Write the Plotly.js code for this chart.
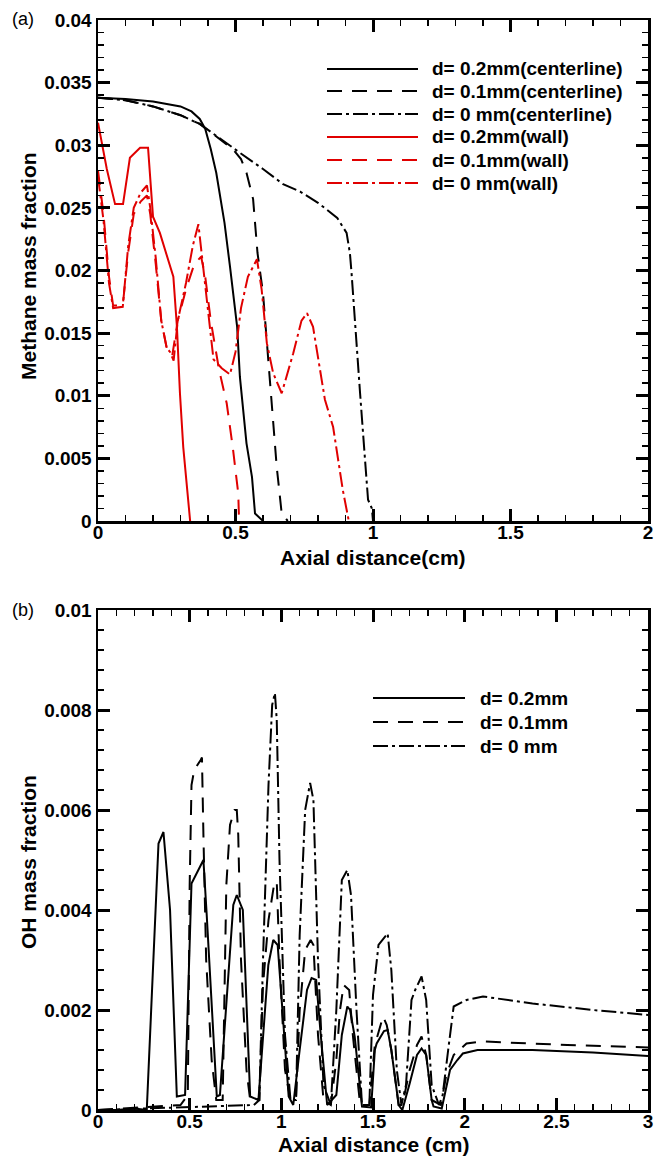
<!DOCTYPE html>
<html>
<head>
<meta charset="utf-8">
<script src="https://cdn.plot.ly/plotly-3.0.1.min.js"></script>
<style>html,body{margin:0;padding:0;background:#fff;}#chart{width:654px;height:1157px;}</style>
</head>
<body>
<div id="chart"></div>
<script>
// ---------- Panel (a): methane mass fraction ----------
const cl02X = [0, 0.1, 0.2, 0.3, 0.34, 0.37, 0.39, 0.41, 0.43, 0.46, 0.48, 0.506, 0.516, 0.528, 0.54, 0.56, 0.571, 0.6];
const cl02Y = [0.0338, 0.0337, 0.0335, 0.0331, 0.0327, 0.0321, 0.0313, 0.0297, 0.0278, 0.0238, 0.0203, 0.0155, 0.0115, 0.0089, 0.0062, 0.0035, 0.0006, 0];

const cl01X = [0, 0.1, 0.2, 0.3, 0.37, 0.45, 0.49, 0.52, 0.54, 0.564, 0.58, 0.6, 0.614, 0.632, 0.65, 0.668, 0.69];
const cl01Y = [0.0338, 0.0336, 0.0331, 0.0324, 0.0317, 0.0304, 0.0297, 0.0289, 0.0278, 0.0257, 0.0214, 0.0182, 0.0142, 0.0089, 0.0043, 0.0006, 0];

const cl00X = [0, 0.1, 0.2, 0.3, 0.37, 0.45, 0.516, 0.6, 0.673, 0.735, 0.8, 0.83, 0.87, 0.904, 0.916, 0.922, 0.935, 0.953, 0.971, 0.982, 0.996, 1.0];
const cl00Y = [0.0338, 0.0336, 0.0331, 0.0324, 0.0317, 0.0304, 0.0294, 0.0281, 0.0269, 0.0263, 0.0254, 0.0249, 0.0242, 0.023, 0.0214, 0.0198, 0.0155, 0.0102, 0.0049, 0.0017, 0.001, 0];

const w02X = [0, 0.032, 0.062, 0.091, 0.116, 0.153, 0.182, 0.2, 0.225, 0.262, 0.274, 0.287, 0.298, 0.31, 0.335];
const w02Y = [0.0318, 0.0281, 0.0253, 0.0253, 0.029, 0.0298, 0.0298, 0.0243, 0.023, 0.0203, 0.0195, 0.0155, 0.0102, 0.0059, 0];

const w01X = [0, 0.02, 0.04, 0.055, 0.09, 0.11, 0.13, 0.155, 0.178, 0.19, 0.21, 0.23, 0.25, 0.27, 0.29, 0.32, 0.35, 0.375, 0.39, 0.41, 0.44, 0.468, 0.49, 0.51, 0.513];
const w01Y = [0.028, 0.0245, 0.0195, 0.0172, 0.0172, 0.0215, 0.0245, 0.0255, 0.026, 0.0245, 0.0205, 0.016, 0.0138, 0.0132, 0.016, 0.0185, 0.0205, 0.0211, 0.0195, 0.016, 0.0121, 0.0094, 0.0059, 0.0022, 0];

const w00X = [0, 0.02, 0.04, 0.055, 0.09, 0.11, 0.13, 0.155, 0.178, 0.19, 0.21, 0.23, 0.25, 0.262, 0.275, 0.29, 0.32, 0.345, 0.365, 0.371, 0.39, 0.407, 0.42, 0.45, 0.48, 0.5, 0.52, 0.545, 0.578, 0.595, 0.614, 0.637, 0.668, 0.71, 0.74, 0.76, 0.782, 0.825, 0.855, 0.89, 0.91, 0.912];
const w00Y = [0.0275, 0.024, 0.019, 0.017, 0.0171, 0.022, 0.025, 0.0262, 0.0268, 0.025, 0.021, 0.016, 0.0138, 0.0135, 0.0128, 0.016, 0.019, 0.022, 0.0237, 0.0225, 0.0185, 0.0155, 0.0129, 0.0122, 0.0117, 0.0135, 0.017, 0.0195, 0.0209, 0.0185, 0.0142, 0.0118, 0.0102, 0.0134, 0.016, 0.0166, 0.0155, 0.0097, 0.0075, 0.0025, 0.0003, 0];

// ---------- Panel (b): OH mass fraction ----------
const oh02X = [0, 0.1, 0.2, 0.266, 0.33, 0.357, 0.393, 0.43, 0.475, 0.51, 0.575, 0.593, 0.648, 0.665, 0.738, 0.757, 0.79, 0.83, 0.875, 0.929, 0.956, 0.98, 1.04, 1.065, 1.1, 1.14, 1.165, 1.19, 1.215, 1.25, 1.3, 1.33, 1.36, 1.375, 1.4, 1.43, 1.44, 1.49, 1.51, 1.52, 1.56, 1.58, 1.6, 1.64, 1.66, 1.7, 1.74, 1.765, 1.79, 1.82, 1.83, 1.875, 1.9, 1.92, 1.96, 1.99, 2.07, 2.37, 2.7, 3.0];
const oh02Y = [0, 0, 0.00003, 0, 0.00533, 0.00556, 0.004, 0.00027, 0.0003, 0.00453, 0.005, 0.0039, 0.00027, 0.0003, 0.0041, 0.0043, 0.004, 0.00027, 0.0002, 0.0029, 0.0034, 0.0033, 0.00027, 0.0001, 0.0012, 0.0024, 0.00264, 0.0026, 0.0015, 0.0001, 0.0003, 0.0015, 0.00207, 0.002, 0.00147, 0.0003, 0.00007, 0.00005, 0.0012, 0.00133, 0.00158, 0.0016, 0.0012, 0.0001, 0, 0.00053, 0.0011, 0.00123, 0.0011, 0.0002, 0.00007, 0.00003, 0.0005, 0.0008, 0.001, 0.00113, 0.0012, 0.0012, 0.00115, 0.00108];

const oh01X = [0, 0.4, 0.45, 0.49, 0.5, 0.51, 0.525, 0.56, 0.567, 0.575, 0.59, 0.62, 0.645, 0.68, 0.7, 0.72, 0.745, 0.757, 0.765, 0.78, 0.81, 0.83, 0.88, 0.9, 0.93, 0.96, 0.975, 0.99, 1.02, 1.05, 1.08, 1.1, 1.13, 1.16, 1.175, 1.2, 1.23, 1.27, 1.3, 1.32, 1.34, 1.37, 1.39, 1.43, 1.48, 1.51, 1.54, 1.555, 1.575, 1.6, 1.64, 1.66, 1.7, 1.74, 1.765, 1.79, 1.82, 1.87, 1.9, 1.94, 2.01, 2.1, 2.56, 3.0];
const oh01Y = [0, 0.0001, 0.0001, 0.0003, 0.0045, 0.0065, 0.0068, 0.007, 0.00705, 0.0055, 0.003, 0.001, 0.0002, 0.0002, 0.0045, 0.0057, 0.006, 0.006, 0.0055, 0.003, 0.0008, 0.0002, 0.0002, 0.0025, 0.0038, 0.0045, 0.00457, 0.003, 0.0008, 0.0002, 0.0002, 0.002, 0.0032, 0.0034, 0.0033, 0.0015, 0.0002, 0.0001, 0.001, 0.002, 0.0025, 0.0024, 0.0015, 0.0001, 0.0001, 0.0013, 0.0017, 0.00187, 0.0017, 0.0012, 0.0001, 0.0001, 0.0008, 0.0013, 0.00147, 0.0011, 0.0002, 0.0001, 0.0007, 0.0011, 0.00133, 0.00137, 0.0013, 0.00125];

const oh00X = [0, 0.85, 0.88, 0.9, 0.93, 0.95, 0.965, 0.975, 0.99, 1.02, 1.05, 1.08, 1.1, 1.13, 1.157, 1.175, 1.2, 1.23, 1.27, 1.3, 1.33, 1.36, 1.38, 1.41, 1.44, 1.48, 1.5, 1.53, 1.58, 1.6, 1.63, 1.655, 1.68, 1.71, 1.73, 1.765, 1.79, 1.82, 1.86, 1.88, 1.91, 1.94, 2.01, 2.1, 2.37, 2.7, 3.0];
const oh00Y = [0, 0.0001, 0.0002, 0.003, 0.0065, 0.0081, 0.00834, 0.0078, 0.005, 0.0015, 0.0002, 0.0002, 0.0035, 0.006, 0.00654, 0.0062, 0.003, 0.0005, 0.0001, 0.002, 0.0046, 0.0048, 0.0043, 0.002, 0.0001, 0.0001, 0.0023, 0.0033, 0.00353, 0.0028, 0.0008, 0.0001, 0.0005, 0.0022, 0.0024, 0.00267, 0.0022, 0.0005, 0.0001, 0.0003, 0.0012, 0.00207, 0.0022, 0.00227, 0.00213, 0.002, 0.0019];

const legendA = ["d= 0.2mm(centerline)", "d= 0.1mm(centerline)", "d= 0 mm(centerline)", "d= 0.2mm(wall)", "d= 0.1mm(wall)", "d= 0 mm(wall)"];
const legendB = ["d= 0.2mm", "d= 0.1mm", "d= 0 mm"];
const xTitleA = "Axial distance(cm)", yTitleA = "Methane mass fraction";
const xTitleB = "Axial distance (cm)", yTitleB = "OH mass fraction";

// ---------- styling ----------
const BLACK = "#000000", RED = "#e00000";
const SOLID = "solid", DASH = "15px,10px", DASHDOT = "15px,4px,3px,4px";
const FONT = "Liberation Sans, Arial, sans-serif";
const W = 654, H = 1157, ML = 98, MR = 6, MT = 20, MB = 47;
const PW = W - ML - MR, PH = H - MT - MB;
const px2x = p => (p - ML) / PW;
const px2y = p => 1 - (p - MT) / PH;

function tr(x, y, color, dash, xa, ya, name) {
  return {x: x, y: y, type: "scatter", mode: "lines", name: name, xaxis: xa, yaxis: ya,
          line: {color: color, width: 2, dash: dash}, showlegend: false, hoverinfo: "skip"};
}

const data = [
  tr(cl02X, cl02Y, BLACK, SOLID, "x", "y", legendA[0]),
  tr(cl01X, cl01Y, BLACK, DASH, "x", "y", legendA[1]),
  tr(cl00X, cl00Y, BLACK, DASHDOT, "x", "y", legendA[2]),
  tr(w02X, w02Y, RED, SOLID, "x", "y", legendA[3]),
  tr(w01X, w01Y, RED, DASH, "x", "y", legendA[4]),
  tr(w00X, w00Y, RED, DASHDOT, "x", "y", legendA[5]),
  tr(oh02X, oh02Y, BLACK, SOLID, "x2", "y2", legendB[0]),
  tr(oh01X, oh01Y, BLACK, DASH, "x2", "y2", legendB[1]),
  tr(oh00X, oh00Y, BLACK, DASHDOT, "x2", "y2", legendB[2])
];

const tickFont = {family: FONT, size: 19, color: BLACK, weight: "bold"};
const titleFont = {family: FONT, size: 21, color: BLACK, weight: "bold"};
const legFont = {family: FONT, size: 19, color: BLACK, weight: "bold"};
function axis(extra) {
  return Object.assign({
    showline: true, linewidth: 2.5, linecolor: BLACK, mirror: "allticks",
    ticks: "inside", ticklen: 12, tickwidth: 3, tickcolor: BLACK,
    showgrid: false, zeroline: false, tickfont: tickFont, automargin: false,
    fixedrange: true
  }, extra);
}

const yTopA = px2y(20), yBotA = px2y(521), yTopB = px2y(610), yBotB = px2y(1110);

const shapes = [], annotations = [];
// custom legend (long line samples as in the original)
const styleA = [[BLACK, SOLID], [BLACK, DASH], [BLACK, DASHDOT], [RED, SOLID], [RED, DASH], [RED, DASHDOT]];
const rowsA = [69, 91, 114, 137, 160, 183];
legendA.forEach((t, i) => {
  shapes.push({type: "line", xref: "paper", yref: "paper", x0: px2x(327), x1: px2x(418), y0: px2y(rowsA[i]), y1: px2y(rowsA[i]),
               line: {color: styleA[i][0], width: 2, dash: styleA[i][1]}});
  annotations.push({xref: "paper", yref: "paper", x: px2x(430), y: px2y(rowsA[i]), xanchor: "left", yanchor: "middle",
                    text: t, showarrow: false, font: legFont});
});
const styleB = [[BLACK, SOLID], [BLACK, DASH], [BLACK, DASHDOT]];
const rowsB = [698, 722, 746];
legendB.forEach((t, i) => {
  shapes.push({type: "line", xref: "paper", yref: "paper", x0: px2x(373), x1: px2x(465), y0: px2y(rowsB[i]), y1: px2y(rowsB[i]),
               line: {color: styleB[i][0], width: 2, dash: styleB[i][1]}});
  annotations.push({xref: "paper", yref: "paper", x: px2x(478), y: px2y(rowsB[i]), xanchor: "left", yanchor: "middle",
                    text: t, showarrow: false, font: legFont});
});
// panel labels
annotations.push({xref: "paper", yref: "paper", x: px2x(10), y: px2y(19), xanchor: "left", yanchor: "middle",
                  text: "(a)", showarrow: false, font: {family: FONT, size: 18, color: BLACK}});
annotations.push({xref: "paper", yref: "paper", x: px2x(10), y: px2y(610), xanchor: "left", yanchor: "middle",
                  text: "(b)", showarrow: false, font: {family: FONT, size: 18, color: BLACK}});
// axis titles
annotations.push({xref: "paper", yref: "paper", x: 0.5, y: px2y(557), xanchor: "center", yanchor: "middle", borderpad: 0,
                  text: xTitleA, showarrow: false, font: titleFont});
annotations.push({xref: "paper", yref: "paper", x: 0.5, y: px2y(1144), xanchor: "center", yanchor: "middle", borderpad: 0,
                  text: xTitleB, showarrow: false, font: titleFont});
annotations.push({xref: "paper", yref: "paper", x: px2x(28), y: px2y(266), xanchor: "center", yanchor: "middle",
                  text: yTitleA, textangle: -90, showarrow: false, font: titleFont});
annotations.push({xref: "paper", yref: "paper", x: px2x(28), y: px2y(862), xanchor: "center", yanchor: "middle",
                  text: yTitleB, textangle: -90, showarrow: false, font: titleFont});

const minorOpt = d => ({dtick: d, ticklen: 6, tickwidth: 1.5, tickcolor: BLACK, ticks: "inside"});
const layout = {
  width: W, height: H, margin: {l: ML, r: MR, t: MT, b: MB}, paper_bgcolor: "#fff", plot_bgcolor: "#fff",
  showlegend: false,
  xaxis: axis({domain: [0, 1], anchor: "y", range: [0, 2], dtick: 0.5, tick0: 0, minor: minorOpt(0.1), ticklabelstandoff: -7}),
  yaxis: axis({domain: [yBotA, yTopA], anchor: "x", range: [0, 0.04], dtick: 0.005, tick0: 0, minor: minorOpt(0.001)}),
  xaxis2: axis({domain: [0, 1], anchor: "y2", range: [0, 3], dtick: 0.5, tick0: 0, minor: minorOpt(0.1), ticklabelstandoff: -7}),
  yaxis2: axis({domain: [yBotB, yTopB], anchor: "x2", range: [0, 0.01], dtick: 0.002, tick0: 0, minor: minorOpt(0.0004)}),
  shapes: shapes,
  annotations: annotations
};

Plotly.newPlot("chart", data, layout, {displayModeBar: false, staticPlot: true});
</script>
</body>
</html>
